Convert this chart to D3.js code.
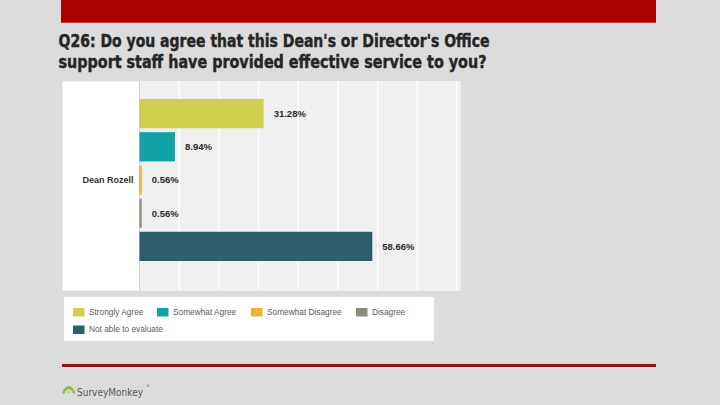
<!DOCTYPE html>
<html>
<head>
<meta charset="utf-8">
<script src="https://cdn.jsdelivr.net/npm/d3@7"></script>
<style>
  html, body { margin: 0; padding: 0; background: #dcdcdc; }
  svg { display: block; }
</style>
</head>
<body>
<svg id="chart" width="720" height="405"></svg>
<script>
// ---- data ----
const titleLines = [
  "Q26: Do you agree that this Dean's or Director's Office",
  "support staff have provided effective service to you?"
];
const groupLabel = "Dean Rozell";
const categories = ["Strongly Agree", "Somewhat Agree", "Somewhat Disagree", "Disagree", "Not able to evaluate"];
const values = [31.28, 8.94, 0.56, 0.56, 58.66];
const gridTicks = [10, 20, 30, 40, 50, 60, 70, 80];
const palette = ["#d1cf4e", "#12a2a5", "#f2b230", "#8d8c7f", "#2f5e6a"];
const brand = "SurveyMonkey";

// ---- drawing ----
const svg = d3.select("#chart");

// top red banner
svg.append("rect").attr("x", 61).attr("y", 0).attr("width", 595).attr("height", 22.7).attr("fill", "#ad0000");

// title
const titleWidths = [431, 428];
svg.selectAll("text.title").data(titleLines).join("text")
  .attr("class", "title")
  .attr("x", 58.5)
  .attr("y", (d, i) => 46.7 + i * 21.3)
  .attr("textLength", (d, i) => titleWidths[i])
  .attr("lengthAdjust", "spacingAndGlyphs")
  .style("font-family", "'DejaVu Sans Condensed', 'Liberation Sans Narrow', 'Arial Narrow', sans-serif")
  .style("font-weight", "bold")
  .style("font-size", "18.5px")
  .style("fill", "#262626")
  .style("stroke", "#262626")
  .style("stroke-width", "0.45px")
  .text(d => d);

// chart panel
const panel = { left: 62.5, top: 81.5, right: 461, bottom: 290.5 };
svg.append("rect").attr("x", panel.left).attr("y", panel.top)
  .attr("width", panel.right - panel.left).attr("height", panel.bottom - panel.top).attr("fill", "#ffffff");

const x = d3.scaleLinear().domain([0, 80]).range([139.5, 457]);
const y = d3.scaleBand().domain(categories).range([97, 263]).paddingInner(0.12).paddingOuter(0.06);

// plot background
svg.append("rect").attr("x", x(0)).attr("y", panel.top)
  .attr("width", panel.right - x(0)).attr("height", panel.bottom - panel.top).attr("fill", "#efefef");

// gridlines
svg.append("g").selectAll("line").data(gridTicks).join("line")
  .attr("x1", d => x(d)).attr("x2", d => x(d))
  .attr("y1", panel.top).attr("y2", panel.bottom)
  .attr("stroke", "#ffffff").attr("stroke-width", 1.3);

// axis line
svg.append("line").attr("x1", x(0)).attr("x2", x(0)).attr("y1", panel.top).attr("y2", panel.bottom)
  .attr("stroke", "#cfcfcf").attr("stroke-width", 1);

// bars
svg.append("g").selectAll("rect").data(categories).join("rect")
  .attr("x", x(0))
  .attr("y", d => y(d))
  .attr("width", (d, i) => x(values[i]) - x(0))
  .attr("height", y.bandwidth())
  .attr("fill", (d, i) => palette[i]);

// value labels
svg.append("g").selectAll("text").data(categories).join("text")
  .attr("x", (d, i) => x(values[i]) + 10)
  .attr("y", d => y(d) + y.bandwidth() / 2)
  .attr("dy", "0.35em")
  .style("font-family", "'Liberation Sans', Arial, sans-serif")
  .style("font-weight", "bold")
  .style("font-size", "9.5px")
  .style("fill", "#2b2b2b")
  .text((d, i) => values[i].toFixed(2) + "%");

// group label
svg.append("text")
  .attr("x", 133.5)
  .attr("y", (y(categories[0]) + y(categories[4]) + y.bandwidth()) / 2)
  .attr("dy", "0.35em")
  .attr("text-anchor", "end")
  .style("font-family", "'Liberation Sans', Arial, sans-serif")
  .style("font-weight", "bold")
  .style("font-size", "9px")
  .style("fill", "#333")
  .text(groupLabel);

// legend
svg.append("rect").attr("x", 64).attr("y", 297).attr("width", 370).attr("height", 44).attr("fill", "#ffffff");
const legendPos = [[73, 312], [157, 312], [251, 312], [356, 312], [73, 329.5]];
const lg = svg.append("g").selectAll("g").data(categories).join("g")
  .attr("transform", (d, i) => `translate(${legendPos[i][0]},${legendPos[i][1]})`);
lg.append("rect").attr("x", 0).attr("y", -4).attr("width", 11.5).attr("height", 8.5)
  .attr("fill", (d, i) => palette[i]);
lg.append("text").attr("x", 16).attr("y", 0).attr("dy", "0.35em")
  .style("font-family", "'Liberation Sans', Arial, sans-serif")
  .style("font-size", "8.3px")
  .style("fill", "#5a5a5a")
  .text(d => d);

// bottom red rule
svg.append("rect").attr("x", 62).attr("y", 364).attr("width", 594).attr("height", 3).attr("fill", "#8e1212");

// logo
const logo = svg.append("g").attr("transform", "translate(62,386)");
logo.append("path")
  .attr("d", "M0,7.5 C1.5,2.5 4,0 6.8,0 C9.6,0 12,2.5 13.5,7.5 L11,7.5 C10,4.5 8.6,3.2 6.8,3.2 C5,3.2 3.6,4.5 2.5,7.5 Z")
  .attr("fill", "#8fbf3f");
logo.append("circle").attr("cx", 6.8).attr("cy", 6.2).attr("r", 1.4).attr("fill", "#b5d56c");
logo.append("text").attr("x", 15).attr("y", 6.5).attr("dy", "0.35em")
  .attr("textLength", 66).attr("lengthAdjust", "spacingAndGlyphs")
  .style("font-family", "'DejaVu Sans', Verdana, sans-serif")
  .style("font-size", "10px")
  .style("fill", "#555")
  .text(brand);
logo.append("text").attr("x", 84).attr("y", 1).style("font-family", "'DejaVu Sans', sans-serif")
  .style("font-size", "3.5px").style("fill", "#777").text("®");
</script>
</body>
</html>
